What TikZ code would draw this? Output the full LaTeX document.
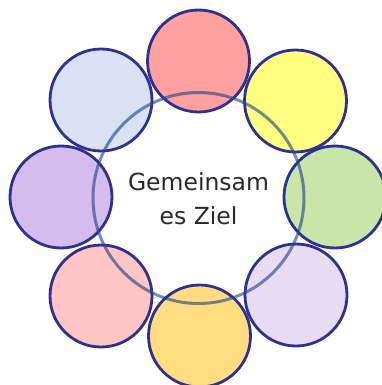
\documentclass[tikz,border=0pt]{standalone}
\usepackage{fontspec}
\setmainfont{DejaVu Sans}
\begin{document}
\begin{tikzpicture}[x=1pt,y=-1pt,
  petal/.style={circle,draw=petalline,line width=2.8pt,minimum size=102pt,inner sep=0pt},
  hub/.style={circle,draw=hubline,draw opacity=0.62,line width=3pt,minimum size=211pt,inner sep=0pt}]
\definecolor{petalline}{RGB}{46,49,146}
\definecolor{hubline}{RGB}{30,70,140}
\definecolor{cA}{RGB}{255,160,160}
\definecolor{cB}{RGB}{255,255,128}
\definecolor{cC}{RGB}{200,230,168}
\definecolor{cD}{RGB}{232,220,242}
\definecolor{cE}{RGB}{255,220,128}
\definecolor{cF}{RGB}{255,196,196}
\definecolor{cG}{RGB}{212,188,236}
\definecolor{cH}{RGB}{216,226,244}
\definecolor{txt}{RGB}{40,40,40}
\useasboundingbox (0,0) rectangle (382,385);
\node[petal,fill=cA] (p1) at (198.5,61) {};
\node[petal,fill=cB] (p2) at (295.5,101) {};
\node[petal,fill=cC] (p3) at (335,197) {};
\node[petal,fill=cD] (p4) at (296,295) {};
\node[petal,fill=cE] (p5) at (199.5,336) {};
\node[petal,fill=cF] (p6) at (101,296) {};
\node[petal,fill=cG] (p7) at (61,197) {};
\node[petal,fill=cH] (p8) at (101,100) {};
\node[hub] (hub) at (198.5,198) {};
\node[text=txt,font=\fontsize{23.5}{34}\selectfont,align=center] (label) at (198.5,199) {Gemeinsam\\es Ziel};
\end{tikzpicture}
\end{document}
